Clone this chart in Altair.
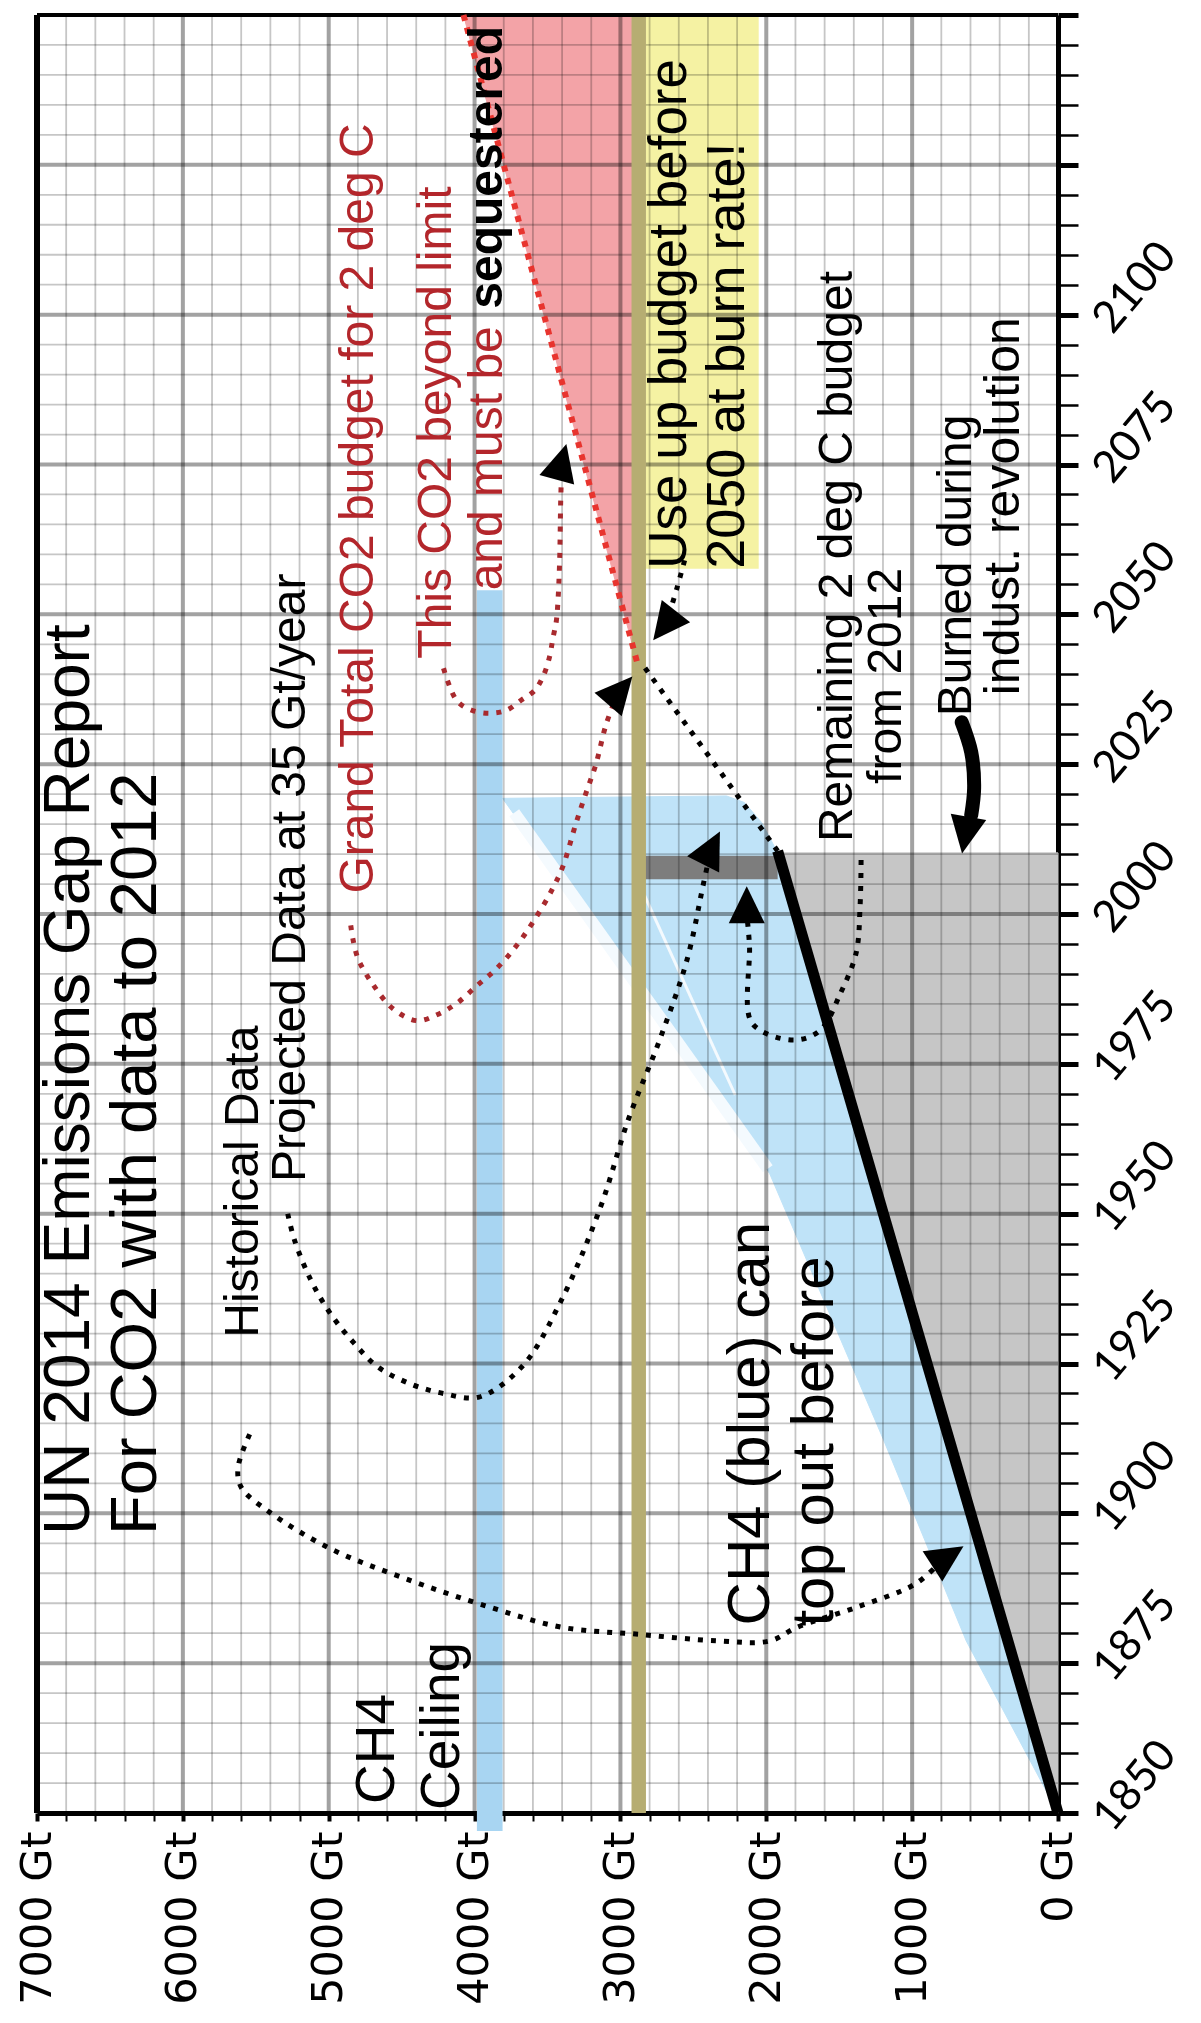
import altair as alt
import pandas as pd

# ---------------- axis ticks ----------------
gt_ticks = list(range(0, 7001, 200))
year_ticks = list(range(1850, 2151, 5))
gt_major = [1000, 2000, 3000, 4000, 5000, 6000]
gt_minor = [v for v in range(200, 7000, 200) if v % 1000 != 0]
yr_major = [1875, 1900, 1925, 1950, 1975, 2000, 2025, 2050, 2075, 2100, 2125]
yr_minor = [v for v in range(1855, 2150, 5) if v % 25 != 0]
border_left_gt = [7000]
border_top_yr = [2150]

# ---------------- filled regions (Gt, year) ----------------
grey_gt = [0, 1922, 0]
grey_yr = [1850, 2010.2, 2010.2]

blue_gt = [0, 629, 1195, 1977, 3808, 2273, 2150, 2030, 1922]
blue_yr = [1850, 1878.7, 1912.2, 1956.7, 2019.3, 2019.7, 2018.6, 2015.2, 2010.2]

red_gt = [4076, 2925, 2880]
red_yr = [2150, 2150, 2041.5]

# rectangles: CH4 ceiling band, yellow box, dark grey bar, olive budget line
rect_x1 = [3808, 2052, 1922, 2825]
rect_x2 = [3984, 2825, 2892, 2924]
rect_y1 = [1847, 2057.6, 2005.8, 1850]
rect_y2 = [2054, 2150, 2009.7, 2150]
rect_col = ["#a8d5f2", "#f5f2a3", "#7d7d7d", "#b6ad72"]

# white streaks inside the blue area
streak1_gt = [3728, 1990]
streak1_yr = [2016.9, 1957.5]
streak2_gt = [2872, 2213]
streak2_yr = [2005.1, 1969.8]

# cumulative CO2 (historical) line
hist_gt = [0, 1922]
hist_yr = [1850, 2010.5]

# remaining budget dotted line
rem_gt = [1922, 2860]
rem_yr = [2010.5, 2042]

# red dotted edge of the "beyond limit" triangle
edge_gt = [4076, 2880]
edge_yr = [2150, 2041.5]

# ---------------- dotted arrows ----------------
arrow_a_gt = [5542, 5622, 5599, 5417, 4997, 4485, 3890, 3404, 2866, 2327, 1977, 1788, 1384, 980, 820]
arrow_a_yr = [1913.2, 1907.6, 1904.3, 1900.4, 1894.2, 1889.2, 1884.3, 1881, 1879.8, 1878.7, 1878.7, 1881, 1884.3, 1888.2, 1891.5]

arrow_b_gt = [5281, 5236, 5122, 4985, 4826, 4667, 4440, 4213, 3970, 3674, 3404, 3135, 2946, 2731, 2543, 2434, 2400]
arrow_b_yr = [1950, 1945.7, 1938.9, 1933.2, 1928.4, 1924.5, 1921.6, 1920, 1919.4, 1924.5, 1935.6, 1951.2, 1965.7, 1979, 1992.4, 2004.7, 2008.5]

arrow_e_gt = [1350, 1357, 1384, 1491, 1626, 1788, 2004, 2111, 2115, 2130]
arrow_e_yr = [2009, 2001.3, 1993.5, 1986.8, 1980.7, 1979, 1980.1, 1982.4, 1994.6, 1999]

arrow_f_gt = [2560, 2611, 2660]
arrow_f_yr = [2059, 2054.5, 2050.5]

arrow_c_gt = [4849, 4803, 4690, 4554, 4395, 4258, 4122, 3986, 3849, 3713, 3590, 3470, 3395, 3304, 3236, 3168, 3100, 3040]
arrow_c_yr = [1998.1, 1992.8, 1988, 1984.1, 1982.2, 1983.2, 1985.1, 1988, 1990.9, 1994.7, 1999, 2004, 2007.9, 2015.2, 2020.2, 2025, 2031.5, 2035.5]

arrow_d_gt = [4213, 4122, 4020, 3895, 3781, 3679, 3588, 3531, 3486, 3463, 3440, 3429, 3417, 3410, 3406]
arrow_d_yr = [2041, 2035.6, 2034, 2033.5, 2034, 2035.7, 2037.3, 2039.6, 2042.9, 2046, 2048.8, 2051.9, 2058.7, 2068.4, 2072]

arrow_g_gt = [660, 595, 575, 595]
arrow_g_yr = [2032, 2027, 2021, 2016.5]

# arrowheads
head_gt = [763, 2380, 3008, 3406, 2134, 2691, 634]
head_yr = [1892.7, 2010.8, 2037.1, 2075.2, 2001.3, 2048.3, 2013.4]
head_angle = [57, 27, 41, 15, 0, 218, 190]

# ---------------- annotation texts ----------------
txt_label = [
    "UN 2014 Emissions Gap Report",
    "For CO2 with data to 2012",
    "Historical Data",
    "Projected Data at 35 Gt/year",
    "CH4",
    "Ceiling",
    "Grand Total CO2 budget for 2 deg C",
    "This CO2 beyond limit",
    "and must be",
    "Use up budget before",
    "2050 at burn rate!",
    "CH4 (blue) can",
    "top out before",
    "Remaining 2 deg C budget",
    "from 2012",
    "Burned during",
    "indust. revolution",
]
txt_gt = [6776, 6319, 5583, 5258, 4669, 4226, 4795, 4260, 3905, 2658, 2264, 2106, 1667, 1509, 1172, 695, 367]
txt_yr = [1896.4, 1896.4, 1929.3, 1955.3, 1851.5, 1850.5, 2003.4, 2042.6, 2054, 2057.6, 2057.6, 1881.3, 1881.1, 2012, 2021.7, 2033, 2036.5]
txt_size = [64, 65, 48, 48, 55, 55, 48, 48, 48, 53, 54, 60, 60, 48, 48, 48, 50]
RED_TXT = "#b3262b"
txt_color = ["black", "black", "black", "black", "black", "black", RED_TXT, RED_TXT, RED_TXT,
             "black", "black", "black", "black", "black", "black", "black", "black"]

bold_label = ["sequestered"]
bold_gt = [3905]
bold_yr = [2101]

# ---------------- scales / axes / helpers ----------------
W, H = 1021, 1798
xs = alt.Scale(domain=[0, 7000], reverse=True, nice=False, zero=False)
ys = alt.Scale(domain=[1850, 2150], nice=False, zero=False)

x_axis = alt.Axis(
    values=gt_ticks,
    labelExpr="datum.value % 1000 === 0 ? datum.value + ' Gt' : ''",
    labelAngle=270, labelAlign="right", labelBaseline="middle",
    labelFont="DejaVu Sans", labelFontSize=43, labelColor="black", labelLimit=400,
    labelPadding=10, labelOverlap=False, labelFlush=False, labelBound=False,
    tickSize=8, tickColor="black",
    tickWidth={"condition": {"test": "datum.value % 1000 === 0", "value": 4}, "value": 2},
    domainColor="black", domainWidth=5, grid=False, title=None,
)
y_axis = alt.Axis(
    orient="right",
    values=year_ticks,
    labelExpr="(datum.value % 25 === 0 && datum.value <= 2100) ? '' + datum.value : ''",
    labelAngle=310, labelAlign="left", labelBaseline="middle",
    labelFont="Lato", labelFontSize=44, labelColor="black", labelLimit=400,
    labelPadding=24, labelOffset=12, labelOverlap=False, labelFlush=False, labelBound=False,
    tickSize=20, tickColor="black",
    tickWidth={"condition": {"test": "datum.value % 25 === 0", "value": 5}, "value": 2.5},
    domainColor="black", domainWidth=5, grid=False, title=None,
)


def X(field="gt"):
    return alt.X(f"{field}:Q", scale=xs, axis=x_axis, title=None)


def Y(field="yr"):
    return alt.Y(f"{field}:Q", scale=ys, axis=y_axis, title=None)


def poly(gt, yr, color):
    df = pd.DataFrame({"gt": gt, "yr": yr, "i": list(range(len(gt)))})
    return alt.Chart(df).mark_line(
        interpolate="linear-closed", fill=color, stroke=color, strokeWidth=1
    ).encode(x=X(), y=Y(), order="i:Q")


def path(gt, yr, color, width, dash=None, cap="butt", interp="catmull-rom"):
    df = pd.DataFrame({"gt": gt, "yr": yr, "i": list(range(len(gt)))})
    kw = dict(color=color, strokeWidth=width, strokeCap=cap, interpolate=interp)
    if dash:
        kw["strokeDash"] = dash
    return alt.Chart(df).mark_line(**kw).encode(x=X(), y=Y(), order="i:Q")


grey = poly(grey_gt, grey_yr, "#c6c6c6")
blue = poly(blue_gt, blue_yr, "#bfe3f8")
red = poly(red_gt, red_yr, "#f3a3a7")

streak1 = path(streak1_gt, streak1_yr, "#f4fafe", 12, interp="linear")
streak2 = path(streak2_gt, streak2_yr, "#f4fafe", 3, interp="linear")

rect_df = pd.DataFrame({"x1": rect_x1, "x2": rect_x2, "y1": rect_y1, "y2": rect_y2, "c": rect_col})
rects_under = alt.Chart(rect_df.iloc[:3]).mark_rect().encode(
    x=X("x1"), x2="x2:Q", y=Y("y1"), y2="y2:Q", color=alt.Color("c:N", scale=None)
)
olive = alt.Chart(rect_df.iloc[3:]).mark_rect().encode(
    x=X("x1"), x2="x2:Q", y=Y("y1"), y2="y2:Q", color=alt.Color("c:N", scale=None)
)

grid_v_minor = alt.Chart(pd.DataFrame({"gt": gt_minor})).mark_rule(
    color="#c6c6c6", strokeWidth=1.8, blend="multiply").encode(x=X())
grid_h_minor = alt.Chart(pd.DataFrame({"yr": yr_minor})).mark_rule(
    color="#c6c6c6", strokeWidth=1.8, blend="multiply").encode(y=Y())
grid_v_major = alt.Chart(pd.DataFrame({"gt": gt_major})).mark_rule(
    color="#a2a2a2", strokeWidth=4, blend="multiply").encode(x=X())
grid_h_major = alt.Chart(pd.DataFrame({"yr": yr_major})).mark_rule(
    color="#a2a2a2", strokeWidth=4, blend="multiply").encode(y=Y())

border_left = alt.Chart(pd.DataFrame({"gt": border_left_gt})).mark_rule(
    color="black", strokeWidth=6).encode(x=X())
border_top = alt.Chart(pd.DataFrame({"yr": border_top_yr})).mark_rule(
    color="black", strokeWidth=4).encode(y=Y())

hist = path(hist_gt, hist_yr, "black", 11, interp="linear")
remaining = path(rem_gt, rem_yr, "black", 5, dash=[5, 8], interp="linear")
edge = path(edge_gt, edge_yr, "#e8342e", 6, dash=[6, 7], interp="linear")

DOT = [5, 8]
arr_a = path(arrow_a_gt, arrow_a_yr, "black", 5, DOT)
arr_b = path(arrow_b_gt, arrow_b_yr, "black", 5, DOT)
arr_e = path(arrow_e_gt, arrow_e_yr, "black", 5, DOT)
arr_f = path(arrow_f_gt, arrow_f_yr, "black", 5, DOT)
arr_c = path(arrow_c_gt, arrow_c_yr, "#a82a2e", 5, DOT)
arr_d = path(arrow_d_gt, arrow_d_yr, "#a82a2e", 5, DOT)
arr_g = path(arrow_g_gt, arrow_g_yr, "black", 14, cap="round")

TRI = "M0,-1L0.9,0.85L-0.9,0.85Z"
heads = alt.Chart(pd.DataFrame({"gt": head_gt, "yr": head_yr, "angle": head_angle})).mark_point(
    shape=TRI, filled=True, color="black", size=1600, opacity=1, strokeWidth=0
).encode(x=X(), y=Y(), angle=alt.Angle("angle:Q", scale=None))

txt_df = pd.DataFrame({"t": txt_label, "gt": txt_gt, "yr": txt_yr, "s": txt_size, "c": txt_color})
texts = alt.Chart(txt_df).mark_text(
    angle=270, align="left", baseline="middle", font="Liberation Sans"
).encode(
    x=X(), y=Y(), text="t:N",
    size=alt.Size("s:Q", scale=None),
    color=alt.Color("c:N", scale=None),
)
bold_df = pd.DataFrame({"t": bold_label, "gt": bold_gt, "yr": bold_yr})
bold = alt.Chart(bold_df).mark_text(
    angle=270, align="left", baseline="middle", font="Liberation Sans",
    fontWeight="bold", fontSize=48, color="black"
).encode(x=X(), y=Y(), text="t:N")

chart = alt.layer(
    grey, blue, streak1, streak2, rects_under, red,
    grid_v_minor, grid_h_minor, grid_v_major, grid_h_major,
    olive, border_left, border_top, hist, remaining, edge,
    arr_a, arr_b, arr_e, arr_f, arr_c, arr_d, arr_g, heads,
    texts, bold,
).properties(
    width=W, height=H,
    autosize=alt.AutoSizeParams(type="none"),
    padding={"left": 29, "top": 7, "right": 135, "bottom": 202},
).configure_view(stroke="black", strokeWidth=4).configure(background="white")

chart.save("out.html", embed_options={"renderer": "svg", "actions": False})
